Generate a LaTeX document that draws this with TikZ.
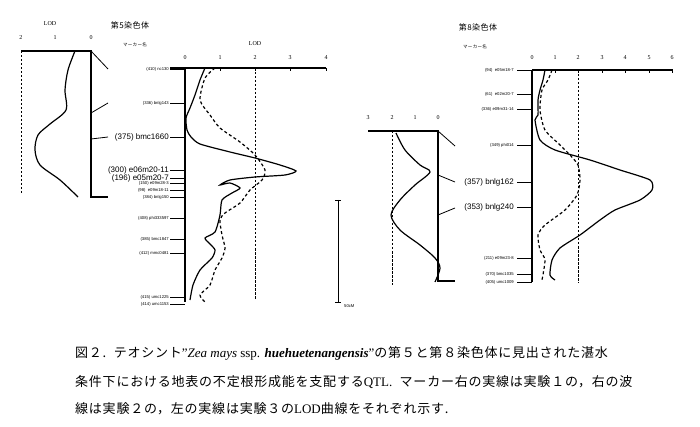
\documentclass[tikz,border=0pt]{standalone}
\usepackage{fontspec}
\setmainfont{Liberation Serif}
\newfontfamily\cjk[LetterSpace=6]{Noto Sans CJK JP}
\newfontfamily\lsans{Liberation Sans}
\begin{document}
\begin{tikzpicture}[x=1pt,y=-1pt,
 ax/.style={line width=1.2pt},
 crv/.style={line width=1.2pt},
 dcrv/.style={line width=1.2pt,dash pattern=on 3pt off 2.5pt},
 thr/.style={line width=0.8pt,dash pattern=on 2.5pt off 1.5pt},
 sm/.style={font=\lsans\fontsize{4.2}{5}\selectfont,anchor=east,inner sep=1pt},
 big/.style={font=\lsans\fontsize{8}{9}\selectfont,anchor=east,inner sep=1pt},
 num/.style={font=\fontsize{6}{7}\selectfont,inner sep=0pt},
 captxt/.style={font=\cjk\fontsize{13}{14}\selectfont,anchor=west,inner sep=0pt}]
\useasboundingbox (0,0) rectangle (700,427);
% ---------- chr5 left panel
\node[num] (l5lod) at (50,24) {LOD};
\foreach \v/\x in {2/21,1/55,0/91} \node[num] (l5n\v) at (\x,38) {\v};
\draw[ax] (21,51) -- (91,51) -- (91,197) -- (108,197);
\draw[thr] (21,51) -- (21,195);
\draw[crv] plot[smooth] coordinates {(75,51) (68,70) (65,90) (66,110) (50,124) (38,135) (35,150) (40,165) (60,180) (78,197)};
\draw[line width=0.8pt] (91,51)--(108,69) (91,113)--(108,103) (91,139)--(108,137);
\node[font=\cjk\fontsize{8}{9}\selectfont] (t5) at (130,25) {第5染色体};
\node[font=\cjk\fontsize{4.5}{5}\selectfont] (mk5) at (135,45) {マーカー名};
% ---------- chr5 right panel
\node[num] (r5lod) at (255,44) {LOD};
\foreach \v/\x in {0/185,1/220,2/255,3/290,4/326} {\node[num] (r5n\v) at (\x,58) {\v}; \draw[line width=0.6pt] (\x,68)--(\x,71);}
\draw[ax] (170,68) -- (326,68);
\draw[ax] (185,68) -- (185,302);
\draw[thr] (255,68) -- (255,300);
\foreach \y/\t/\s in {69/(410) nc130/sm,103/(336) bnlg143/sm,137/(375) bmc1660/big,170/(300) e06m20-11/big,178/(196) e05m20-7/big,183/(150) e09m28-3/sm,190/(98)\ \ e09m18-11/sm,197/(384) bnlg150/sm,218/(408) phi333597/sm,239/(385) bmc1847/sm,253/(412) mmc0481/sm,297/(415) umc1225/sm,304/(414) umc1153/sm}
 {\node[\s] at (170,\y) {\t}; \draw[line width=0.8pt] (170,\y)--(185,\y);}
\draw[crv] plot[smooth,tension=0.4] coordinates {(205,68) (200,80) (195,95) (190,108) (186,118) (187,130) (191,137) (200,144) (230,152) (255,158) (280,165) (296,171) (285,175) (255,177) (230,180) (220,185) (230,183) (240,188) (232,193) (222,200) (220,215) (215,232) (205,238) (210,244) (215,250) (212,258) (200,270) (193,285) (190,300)};
\draw[dcrv] plot[smooth,tension=0.4] coordinates {(215,68) (205,78) (200,100) (210,115) (220,128) (240,142) (255,155) (265,170) (262,180) (250,190) (240,203) (225,213) (220,220) (222,235) (225,248) (222,258) (215,270) (210,285) (200,295) (205,302)};
% scale bar
\draw[line width=0.7pt] (335,200)--(341,200) (338,200)--(338,302) (335,302)--(341,302);
\node[sm,anchor=west] (sc) at (343,306) {50cM};
% ---------- chr8 left panel
\foreach \v/\x in {3/368,2/392,1/415,0/438} \node[num] (l8n\v) at (\x,118) {\v};
\draw[ax] (368,131) -- (438,131) -- (438,281) -- (455,281);
\draw[thr] (392,131) -- (392,285);
\draw[crv] plot[smooth,tension=0.5] coordinates {(396,133) (405,150) (420,165) (430,172) (415,185) (400,200) (391,215) (400,230) (420,245) (435,258) (440,268) (435,282)};
\draw[line width=0.8pt] (438,131)--(455,146) (438,175)--(455,182) (438,215)--(455,208);
% ---------- chr8 right panel
\node[font=\cjk\fontsize{8}{9}\selectfont] (t8) at (478,27) {第8染色体};
\node[font=\cjk\fontsize{4.5}{5}\selectfont] (mk8) at (475,47) {マーカー名};
\foreach \v/\x in {0/532,1/555,2/578,3/602,4/625,5/649,6/672} {\node[num] (r8n\v) at (\x,58) {\v}; \draw[line width=0.6pt] (\x,70)--(\x,73);}
\draw[ax] (532,70) -- (673,70);
\draw[line width=0.8pt,gray] (517,70)--(532,70);
\draw[ax] (532,70) -- (532,282);
\draw[thr] (578,70) -- (578,283);
\foreach \y/\t/\s in {70/(94)\ \ e05m18-7/sm,94/(61)\ \ e02m20-7/sm,109/(336) e09m31-14/sm,145/(349) phi014/sm,182/(357)\ bnlg162/big,207/(353)\ bnlg240/big,258/(211) e09m23-8/sm,274/(370) bmc1035/sm,282/(405) umc1009/sm}
 {\node[\s] at (515,\y) {\t}; \draw[line width=0.8pt] (517,\y)--(532,\y);}
\draw[crv] plot[smooth,tension=0.4] coordinates {(545,70) (543,80) (540,90) (538,100) (538,115) (535,120) (540,140) (555,150) (590,160) (620,170) (650,180) (652,190) (640,200) (615,210) (600,220) (580,235) (560,248) (552,260) (550,275) (555,280)};
\draw[dcrv] plot[smooth,tension=0.4] coordinates {(552,70) (548,80) (542,90) (540,110) (545,130) (560,145) (570,155) (578,165) (580,180) (577,195) (565,210) (545,225) (538,235) (540,250) (545,260) (542,280)};
% ---------- caption
\node[captxt] (c1) at (75,353) {図２.\ \ テオシント{\rmfamily"\textit{Zea mays} ssp. \textbf{\textit{huehuetenangensis}}"}の第５と第８染色体に見出された湛水};
\node[captxt] (c2) at (75,382) {条件下における地表の不定根形成能を支配する{\rmfamily QTL.}\ \ マーカー右の実線は実験１の，右の波};
\node[captxt] (c3) at (75,409) {線は実験２の，左の実線は実験３の{\rmfamily LOD}曲線をそれぞれ示す.};
\end{tikzpicture}
\end{document}
